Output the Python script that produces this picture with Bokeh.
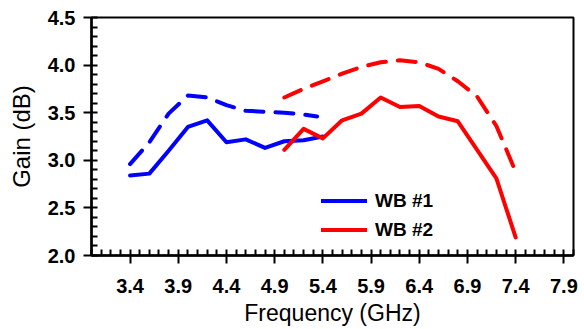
from bokeh.plotting import figure
from bokeh.models import Range1d, FixedTicker, Legend, LegendItem, NumeralTickFormatter
from bokeh.embed import file_html
from bokeh.resources import INLINE

# ---- data ----
freq_wb1 = [3.4, 3.6, 3.8, 4.0, 4.2, 4.4, 4.6, 4.8, 5.0, 5.2, 5.4]
gain_wb1 = [2.84, 2.86, 3.10, 3.35, 3.42, 3.19, 3.22, 3.13, 3.20, 3.21, 3.25]

freq_wb1_dash = [3.4, 3.6, 3.8, 4.0, 4.2, 4.4, 4.6, 4.8, 5.0, 5.2, 5.34]
gain_wb1_dash = [2.96, 3.19, 3.49, 3.68, 3.66, 3.58, 3.52, 3.51, 3.50, 3.48, 3.46]

freq_wb2 = [5.0, 5.2, 5.4, 5.6, 5.8, 6.0, 6.2, 6.4, 6.6, 6.8, 7.0, 7.2, 7.4]
gain_wb2 = [3.11, 3.33, 3.23, 3.42, 3.49, 3.66, 3.56, 3.57, 3.46, 3.41, 3.11, 2.81, 2.19]

freq_wb2_dash = [5.0, 5.2, 5.4, 5.6, 5.8, 6.0, 6.2, 6.4, 6.6, 6.8, 7.0, 7.2, 7.4]
gain_wb2_dash = [3.66, 3.75, 3.83, 3.91, 3.98, 4.03, 4.05, 4.03, 3.96, 3.83, 3.67, 3.36, 2.88]

x_ticks = [3.4, 3.9, 4.4, 4.9, 5.4, 5.9, 6.4, 6.9, 7.4, 7.9]
x_minor = [round(3.0 + 0.1 * i, 1) for i in range(51)]
y_ticks = [2.0, 2.5, 3.0, 3.5, 4.0, 4.5]
y_minor = [round(2.0 + 0.1 * i, 1) for i in range(26)]

labels = ["WB #1", "WB #2"]

FONT = "Liberation Sans"

p = figure(width=584, height=329, output_backend="svg", toolbar_location=None,
           x_range=Range1d(3.0, 8.0), y_range=Range1d(2.0, 4.5),
           min_border_left=91, min_border_right=11, min_border_top=17, min_border_bottom=74)
p.background_fill_color = "white"
p.border_fill_color = "white"
p.outline_line_color = "black"
p.outline_line_width = 2
p.xgrid.visible = False
p.ygrid.visible = False

blue = "#0000FF"
red = "#FF0000"

r1 = p.line(freq_wb1, gain_wb1, line_color=blue, line_width=4, line_join="round", line_cap="round")
p.line(freq_wb1_dash, gain_wb1_dash, line_color=blue, line_width=4, line_dash="18 12",
       line_join="round", line_cap="round")
r2 = p.line(freq_wb2, gain_wb2, line_color=red, line_width=4, line_join="round", line_cap="round")
p.line(freq_wb2_dash, gain_wb2_dash, line_color=red, line_width=4, line_dash="18 12",
       line_join="round", line_cap="round")

# axes
xa = p.xaxis[0]
xa.ticker = FixedTicker(ticks=x_ticks, minor_ticks=x_minor)
xa.formatter = NumeralTickFormatter(format="0.0")
xa.axis_label = "Frequency (GHz)"
xa.axis_label_text_font = FONT
xa.axis_label_text_font_size = "23px"
xa.axis_label_text_font_style = "normal"
xa.axis_label_text_color = "black"
xa.axis_label_standoff = 4
xa.major_label_text_font = FONT
xa.major_label_text_font_size = "20px"
xa.major_label_text_font_style = "bold"
xa.major_label_text_color = "black"
xa.major_label_standoff = 15
xa.major_tick_in = 0
xa.major_tick_out = 8
xa.minor_tick_in = 6
xa.minor_tick_out = 0
xa.axis_line_width = 2.5
xa.axis_line_color = "black"
xa.major_tick_line_color = "black"
xa.minor_tick_line_color = "black"
xa.major_tick_line_width = 2
xa.minor_tick_line_width = 2

ya = p.yaxis[0]
ya.ticker = FixedTicker(ticks=y_ticks, minor_ticks=y_minor)
ya.formatter = NumeralTickFormatter(format="0.0")
ya.axis_label = "Gain (dB)"
ya.axis_label_text_font = FONT
ya.axis_label_text_font_size = "24px"
ya.axis_label_text_font_style = "normal"
ya.axis_label_text_color = "black"
ya.axis_label_standoff = 10
ya.major_label_text_font = FONT
ya.major_label_text_font_size = "20px"
ya.major_label_text_font_style = "bold"
ya.major_label_text_color = "black"
ya.major_label_standoff = 8
ya.major_tick_in = 0
ya.major_tick_out = 8
ya.minor_tick_in = 6
ya.minor_tick_out = 0
ya.axis_line_width = 2.5
ya.axis_line_color = "black"
ya.major_tick_line_color = "black"
ya.minor_tick_line_color = "black"
ya.major_tick_line_width = 2
ya.minor_tick_line_width = 2

legend = Legend(items=[LegendItem(label=labels[0], renderers=[r1]),
                       LegendItem(label=labels[1], renderers=[r2])],
                location=(230, 13), orientation="vertical",
                glyph_width=46, glyph_height=25, label_height=25, spacing=4,
                label_standoff=8, padding=0, margin=0,
                border_line_color=None, background_fill_alpha=0,
                label_text_font=FONT, label_text_font_size="19px",
                label_text_font_style="bold", label_text_color="black")
p.add_layout(legend)

open("out.html", "w").write(file_html(p, INLINE))
